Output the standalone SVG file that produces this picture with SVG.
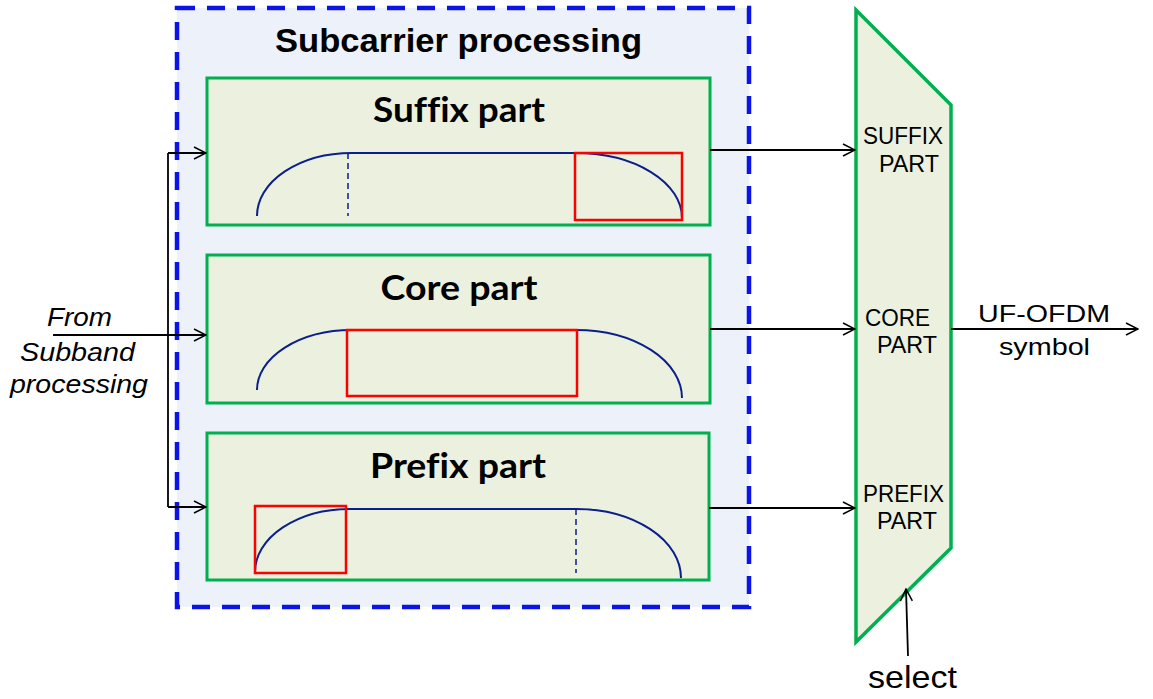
<svg xmlns="http://www.w3.org/2000/svg" width="1153" height="699" viewBox="0 0 1153 699">
<defs>
<marker id="ah" markerWidth="14" markerHeight="14" refX="13" refY="7" orient="auto" markerUnits="userSpaceOnUse">
<path d="M1,1 L13,7 L1,13" fill="none" stroke="#000" stroke-width="1.5"/>
</marker>
<style>
.box{fill:#EBF1DE;stroke:#00B050;stroke-width:3}
.wave{fill:none;stroke:#0A1E8C;stroke-width:2}
.dash{fill:none;stroke:#0A1E8C;stroke-width:1.5;stroke-dasharray:6,4}
.sel{fill:none;stroke:#FF0000;stroke-width:2.5}
.ttl{font-family:Lato,"Open Sans",sans-serif;font-weight:bold;font-size:34px;text-anchor:middle;fill:#000;font-variant-ligatures:none}
.lab{font-family:"Liberation Sans",Arial,sans-serif;font-size:23px;fill:#000}
.conn{fill:none;stroke:#000;stroke-width:1.8}
</style>
</defs>
<g id="subcarrier">
<rect x="177" y="8" width="572" height="599" fill="#EDF1F9" stroke="#0A14E6" stroke-width="4.5" stroke-dasharray="18,12"/>
<text x="275" y="52" font-family="Liberation Sans,Arial,sans-serif" font-weight="bold" font-size="34" textLength="367" lengthAdjust="spacingAndGlyphs">Subcarrier processing</text>
</g>
<g id="suffix">
<rect class="box" x="207" y="78" width="503" height="147"/>
<text class="ttl" x="459" y="122" textLength="172" lengthAdjust="spacingAndGlyphs">Suffix part</text>
<path class="wave" d="M257,216 A95,63 0 0 1 352,153 L576,153 A106,65 0 0 1 682,218"/>
<line class="dash" x1="348" y1="153" x2="348" y2="216"/>
<rect class="sel" x="575" y="153" width="107" height="67"/>
</g>
<g id="core">
<rect class="box" x="207" y="255" width="503" height="148"/>
<text class="ttl" x="459" y="300" textLength="157" lengthAdjust="spacingAndGlyphs">Core part</text>
<path class="wave" d="M257,390 A95,60 0 0 1 352,330 L576,330 A106,68 0 0 1 682,398"/>
<rect class="sel" x="347" y="330" width="230" height="66"/>
</g>
<g id="prefix">
<rect class="box" x="207" y="433" width="502" height="147"/>
<text class="ttl" x="458" y="478" textLength="176" lengthAdjust="spacingAndGlyphs">Prefix part</text>
<path class="wave" d="M255,572 A95,63 0 0 1 350,509 L576,509 A105,69 0 0 1 681,578"/>
<line class="dash" x1="576" y1="509" x2="576" y2="573"/>
<rect class="sel" x="255" y="506" width="91" height="67"/>
</g>
<g id="mux">
<polygon points="856,10 951,105 951,548 856,642" fill="#EBF1DE" stroke="#00B050" stroke-width="3.5"/>
<text class="lab" x="863" y="144" textLength="80" lengthAdjust="spacingAndGlyphs">SUFFIX</text>
<text class="lab" x="879" y="172" textLength="60" lengthAdjust="spacingAndGlyphs">PART</text>
<text class="lab" x="865" y="326" textLength="65" lengthAdjust="spacingAndGlyphs">CORE</text>
<text class="lab" x="877" y="353" textLength="60" lengthAdjust="spacingAndGlyphs">PART</text>
<text class="lab" x="863" y="502" textLength="81" lengthAdjust="spacingAndGlyphs">PREFIX</text>
<text class="lab" x="877" y="529" textLength="60" lengthAdjust="spacingAndGlyphs">PART</text>
</g>
<g id="labels" font-family="Liberation Sans,Arial,sans-serif" fill="#000">
<text x="47" y="326" font-size="25" font-style="italic" textLength="65" lengthAdjust="spacingAndGlyphs">From</text>
<text x="20" y="361" font-size="25" font-style="italic" textLength="115" lengthAdjust="spacingAndGlyphs">Subband</text>
<text x="10" y="393" font-size="25" font-style="italic" textLength="138" lengthAdjust="spacingAndGlyphs">processing</text>
<text x="978" y="322" font-size="24" textLength="132" lengthAdjust="spacingAndGlyphs">UF-OFDM</text>
<text x="999" y="355" font-size="24" textLength="91" lengthAdjust="spacingAndGlyphs">symbol</text>
<text x="868" y="688" font-size="32" textLength="89" lengthAdjust="spacingAndGlyphs">select</text>
</g>
<g id="connectors">
<line class="conn" x1="53" y1="335" x2="206" y2="335" marker-end="url(#ah)"/>
<polyline class="conn" points="168,153 168,507"/>
<line class="conn" x1="168" y1="153" x2="206" y2="153" marker-end="url(#ah)"/>
<line class="conn" x1="168" y1="507" x2="206" y2="507" marker-end="url(#ah)"/>
<line class="conn" x1="710" y1="150" x2="855" y2="150" marker-end="url(#ah)"/>
<line class="conn" x1="710" y1="329" x2="855" y2="329" marker-end="url(#ah)"/>
<line class="conn" x1="709" y1="508" x2="855" y2="508" marker-end="url(#ah)"/>
<line class="conn" x1="951" y1="329" x2="1138" y2="329" marker-end="url(#ah)"/>
<line class="conn" x1="908" y1="656" x2="906" y2="589" marker-end="url(#ah)"/>
</g>
</svg>
